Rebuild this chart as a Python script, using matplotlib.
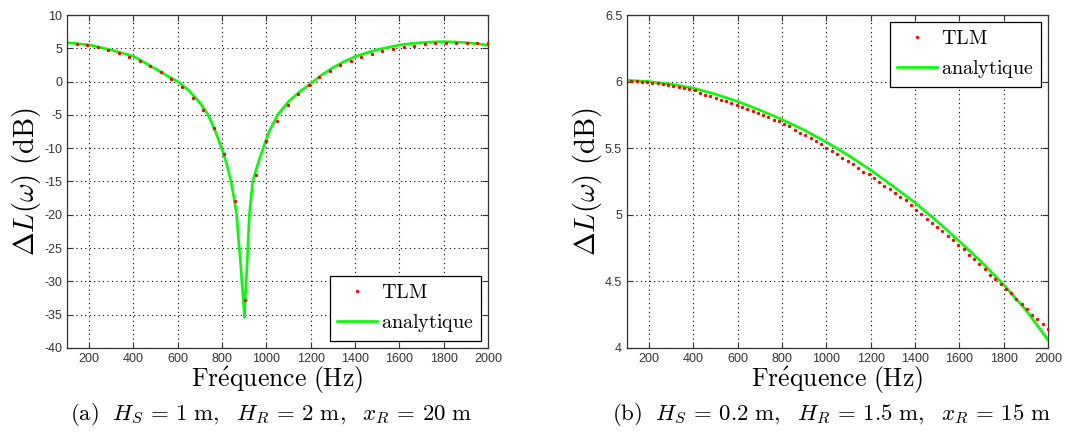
import matplotlib
matplotlib.use('Agg')
import matplotlib.pyplot as plt

plt.rcParams['mathtext.fontset'] = 'cm'
plt.rcParams['axes.unicode_minus'] = False
plt.rcParams['font.family'] = ['Liberation Sans', 'DejaVu Sans']

# -------------------------------
# (a) Hs = 1 m, Hr = 2 m, xr = 20 m
# -------------------------------
freq_ana_a = [100, 200, 300, 400, 500, 550, 600, 650, 700, 737, 770, 800, 820, 840,
              855, 865, 876, 882, 889, 895, 901, 904, 909, 916, 923, 938, 960, 985,
              1015, 1050, 1100, 1150, 1200, 1250, 1300, 1350, 1400, 1450, 1500, 1550,
              1600, 1650, 1700, 1750, 1800, 1850, 1900, 1950, 2000]
dl_ana_a = [5.85, 5.5, 4.75, 3.8, 1.9, 0.9, 0.0, -1.35, -3.2, -5.0, -7.5, -10.2, -12.3, -15.0,
            -17.7, -19.8, -24.5, -26.7, -30.0, -32.5, -35.4, -32.5, -30.0, -25.0, -20.0, -15.0, -12.5, -10.0,
            -7.3, -5.0, -3.0, -1.5, -0.3, 1.0, 2.1, 3.0, 3.75, 4.3, 4.8, 5.15,
            5.5, 5.7, 5.85, 5.95, 6.0, 5.95, 5.85, 5.7, 5.45]

freq_tlm_a = [142.9, 190.5, 238.1, 285.7, 333.3, 381.0, 428.6, 476.2, 523.8, 571.4,
              619.0, 666.7, 714.3, 761.9, 809.5, 857.1, 904.8, 952.4, 1000.0, 1047.6,
              1095.2, 1142.9, 1190.5, 1238.1, 1285.7, 1333.3, 1381.0, 1428.6, 1476.2, 1523.8,
              1571.4, 1619.0, 1666.7, 1714.3, 1761.9, 1809.5, 1857.1, 1904.8, 1952.4, 2000.0]
dl_tlm_a = [5.6, 5.45, 5.2, 4.75, 4.25, 3.75, 3.15, 2.4, 1.5, 0.4,
            -0.75, -2.4, -4.25, -7.0, -10.85, -18.0, -32.8, -14.0, -8.9, -5.9,
            -3.55, -1.9, -0.45, 0.75, 1.6, 2.45, 3.05, 3.65, 4.15, 4.65,
            4.9, 5.25, 5.4, 5.65, 5.75, 5.75, 5.75, 5.8, 5.8, 5.85]

# -------------------------------
# (b) Hs = 0.2 m, Hr = 1.5 m, xr = 15 m
# -------------------------------
freq_ana_b = [100, 200, 300, 400, 500, 600, 700, 800, 900, 1000,
              1100, 1200, 1300, 1400, 1500, 1600, 1700, 1800, 1900, 2000]
dl_ana_b = [6.01, 6.0, 5.98, 5.95, 5.905, 5.85, 5.785, 5.715, 5.635, 5.545,
            5.445, 5.335, 5.215, 5.09, 4.95, 4.8, 4.645, 4.475, 4.285, 4.06]

freq_tlm_b = [119.0, 142.9, 166.7, 190.5, 214.3, 238.1, 261.9, 285.7, 309.5, 333.3,
              357.1, 381.0, 404.8, 428.6, 452.4, 476.2, 500.0, 523.8, 547.6, 571.4,
              595.2, 619.0, 642.9, 666.7, 690.5, 714.3, 738.1, 761.9, 785.7, 809.5,
              833.3, 857.1, 881.0, 904.8, 928.6, 952.4, 976.2, 1000.0, 1023.8, 1047.6,
              1071.4, 1095.2, 1119.0, 1142.9, 1166.7, 1190.5, 1214.3, 1238.1, 1261.9, 1285.7,
              1309.5, 1333.3, 1357.1, 1381.0, 1404.8, 1428.6, 1452.4, 1476.2, 1500.0, 1523.8,
              1547.6, 1571.4, 1595.2, 1619.0, 1642.9, 1666.7, 1690.5, 1714.3, 1738.1, 1761.9,
              1785.7, 1809.5, 1833.3, 1857.1, 1881.0, 1904.8, 1928.6, 1952.4, 1976.2, 2000.0]
dl_tlm_b = [6.005, 6.003, 6.0, 5.997, 5.993, 5.988, 5.983, 5.977, 5.97, 5.963,
            5.955, 5.947, 5.94, 5.9125, 5.9, 5.89, 5.8775, 5.865, 5.8525, 5.8375,
            5.825, 5.8075, 5.795, 5.78, 5.765, 5.7525, 5.7325, 5.715, 5.7025, 5.6825,
            5.665, 5.64, 5.6175, 5.5975, 5.575, 5.5525, 5.53, 5.5, 5.4775, 5.4575,
            5.4275, 5.405, 5.3825, 5.355, 5.325, 5.305, 5.275, 5.245, 5.2175, 5.19,
            5.16, 5.13, 5.11, 5.075, 5.0375, 5.0075, 4.97, 4.94, 4.91, 4.875,
            4.84, 4.81, 4.77, 4.74, 4.7, 4.665, 4.63, 4.59, 4.55, 4.52,
            4.48, 4.445, 4.41, 4.37, 4.33, 4.295, 4.25, 4.215, 4.18, 4.14]

xticks = [200, 400, 600, 800, 1000, 1200, 1400, 1600, 1800, 2000]
yticks_a = [-40, -35, -30, -25, -20, -15, -10, -5, 0, 5, 10]
yticks_b = [4, 4.5, 5, 5.5, 6, 6.5]
ytick_labels_b = ['4', '4.5', '5', '5.5', '6', '6.5']

captions = [r'$\mathrm{(a)}\ \ H_S\,=\,1\ \mathrm{m},\ \ H_R\,=\,2\ \mathrm{m},\ \ x_R\,=\,20\ \mathrm{m}$',
            r'$\mathrm{(b)}\ \ H_S\,=\,0.2\ \mathrm{m},\ \ H_R\,=\,1.5\ \mathrm{m},\ \ x_R\,=\,15\ \mathrm{m}$']

fig = plt.figure(figsize=(10.83, 4.37), dpi=100)
ax1 = fig.add_axes([67 / 1083, 89 / 437, 421 / 1083, 333 / 437])
ax2 = fig.add_axes([627 / 1083, 89 / 437, 421 / 1083, 333 / 437])

panels = [
    (ax1, freq_tlm_a, dl_tlm_a, freq_ana_a, dl_ana_a, yticks_a, None, (-40, 10), 'lower right'),
    (ax2, freq_tlm_b, dl_tlm_b, freq_ana_b, dl_ana_b, yticks_b, ytick_labels_b, (4, 6.5), 'upper right'),
]

for ax, ft, dt, fa, da, yt, ytl, ylim, loc in panels:
    ax.plot(ft, dt, '.', color='red', markersize=2.8, label=r'$\mathrm{TLM}$', zorder=3)
    ax.plot(fa, da, '-', color='#00ff00', linewidth=1.9, label=r'$\mathrm{analytique}$', zorder=2)
    ax.set_xlim(100, 2000)
    ax.set_ylim(*ylim)
    ax.set_xticks(xticks)
    ax.set_yticks(yt)
    if ytl is not None:
        ax.set_yticklabels(ytl)
    ax.grid(True, linestyle=(0, (1, 3)), color='black', linewidth=0.8)
    ax.tick_params(direction='in', top=True, right=True, length=4, labelsize=9,
                   labelcolor='#333333', color='#333333')
    for sp in ax.spines.values():
        sp.set_color('#333333')
        sp.set_linewidth(0.9)
    ax.set_xlabel(r'$\mathrm{Fr\acute{e}quence\ (Hz)}$', fontsize=18.5, labelpad=0)
    ax.set_ylabel(r'$\Delta L(\omega)\ \mathrm{(dB)}$', fontsize=20.5, labelpad=1)
    leg = ax.legend(loc=loc, fontsize=14.5, fancybox=False, framealpha=1,
                    edgecolor='black', borderaxespad=0.35, handlelength=2.0,
                    handletextpad=0.2, borderpad=0.35, labelspacing=0.5)
    leg.get_frame().set_linewidth(0.9)

fig.text(271 / 1083, 1 - 415 / 437, captions[0], fontsize=16.5, ha='center', va='center')
fig.text(832 / 1083, 1 - 415 / 437, captions[1], fontsize=16.5, ha='center', va='center')

fig.savefig('out.png', dpi=100)
